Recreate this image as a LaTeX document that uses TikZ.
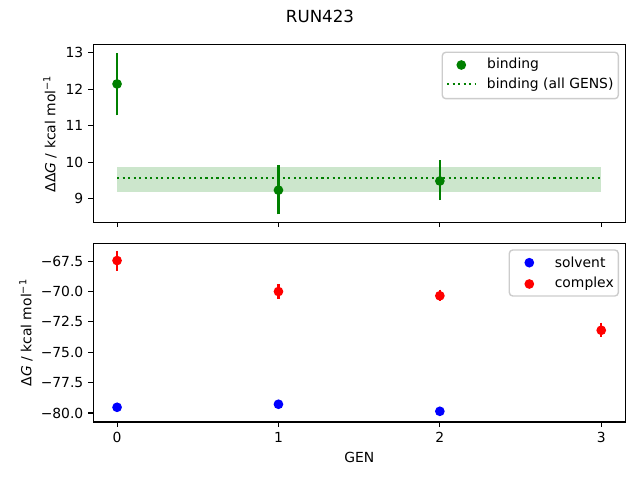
\documentclass[tikz,border=0pt]{standalone}
\usepackage{fontspec}
\setmainfont{DejaVu Sans}
\usetikzlibrary{positioning}
\definecolor{mplgreen}{HTML}{008000}
\definecolor{mplred}{HTML}{FF0000}
\definecolor{mplblue}{HTML}{0000FF}
\definecolor{framegray}{HTML}{CCCCCC}
\tikzset{
  axisbox/.style={line width=0.8bp},
  tickmark/.style={line width=0.8bp},
  errbar/.style={line width=1.5bp},
  dot/.style={circle, inner sep=0pt, minimum size=7bp},
  dotline/.style={mplgreen, line width=1.5bp, dash pattern=on 1.5bp off 2.475bp},
  ticklabel/.style={inner sep=0pt, font=\fontsize{10bp}{12bp}\selectfont},
  legtext/.style={inner sep=0pt, anchor=west, font=\fontsize{10bp}{12bp}\selectfont},
  legendframe/.style={draw=framegray, fill=white, fill opacity=0.8, rounded corners=2.5bp, line width=1bp},
}

\begin{document}
\begin{tikzpicture}[x=0.01in, y=0.01in]
\useasboundingbox (0,0) rectangle (640,480);

% top panel: binding free energy
\begin{scope}[shift={(1.17in,-0.485in)}, x=1.613in, y=0.366in]
\fill[mplgreen, opacity=0.2] (0,9.20) rectangle (3,9.88);
\draw[dotline] (0,9.56) -- (3,9.56);
\draw[errbar, mplgreen] (0,11.28) -- (0,12.98);
\draw[errbar, mplgreen] (1,8.58) -- (1,9.93);
\draw[errbar, mplgreen] (2,8.97) -- (2,10.07);
\node[dot, fill=mplgreen] (bind0) at (0,12.14) {};
\node[dot, fill=mplgreen] (bind1) at (1,9.24) {};
\node[dot, fill=mplgreen] (bind2) at (2,9.49) {};
\draw[axisbox] (-0.147,8.36) rectangle (3.152,13.21);
\foreach \v in {9,...,13} {
  \draw[tickmark] (-0.147,\v) -- ++(-3.5bp,0);
  \node[ticklabel, anchor=east] at ([xshift=-7bp]-0.147,\v) {\v};
}
\foreach \g in {0,...,3}
  \draw[tickmark] (\g,8.36) -- ++(0,-3.5bp);
\end{scope}

% bottom panel: solvent and complex legs
\begin{scope}[shift={(1.17in,10.3815in)}, x=1.613in, y=0.1214in]
\draw[errbar, mplred] (0,-66.65) -- (0,-68.27);
\draw[errbar, mplred] (1,-69.37) -- (1,-70.60);
\draw[errbar, mplred] (2,-69.85) -- (2,-70.80);
\draw[errbar, mplred] (3,-72.55) -- (3,-73.75);
\node[dot, fill=mplblue] (solv0) at (0,-79.53) {};
\node[dot, fill=mplblue] (solv1) at (1,-79.28) {};
\node[dot, fill=mplblue] (solv2) at (2,-79.86) {};
\node[dot, fill=mplred] (cplx0) at (0,-67.45) {};
\node[dot, fill=mplred] (cplx1) at (1,-70.00) {};
\node[dot, fill=mplred] (cplx2) at (2,-70.35) {};
\node[dot, fill=mplred] (cplx3) at (3,-73.19) {};
\draw[axisbox] (-0.147,-80.74) rectangle (3.152,-66.02);
\foreach \v/\t in {-80/−80.0, -77.5/−77.5, -75/−75.0, -72.5/−72.5, -70/−70.0, -67.5/−67.5} {
  \draw[tickmark] (-0.147,\v) -- ++(-3.5bp,0);
  \node[ticklabel, anchor=east] at ([xshift=-7bp]-0.147,\v) {\t};
}
\foreach \g in {0,...,3} {
  \draw[tickmark] (\g,-80.74) -- ++(0,-3.5bp);
  \node[ticklabel, anchor=north] at ([yshift=-7bp]\g,-80.74) {\g};
}
\end{scope}

% legends
\draw[legendframe] (442.3,381.3) rectangle (618.3,427.7);
\node[dot, fill=mplgreen] (legbind) at (461.3,415) {};
\node[legtext, right=0.205in of legbind] (legbindtext) {binding};
\coordinate (legall) at (447,395.7);
\draw[dotline] (legall) -- ++(28,0);
\node[legtext] (legalltext) at (486.7,395.7) {binding (all GENS)};

\draw[legendframe] (509.3,184) rectangle (618.3,230);
\node[dot, fill=mplblue] (legsolv) at (529.3,217.3) {};
\node[legtext, right=0.201in of legsolv] (legsolvtext) {solvent};
\node[dot, fill=mplred] (legcplx) at (529.3,196) {};
\node[legtext, right=0.201in of legcplx] (legcplxtext) {complex};

% titles and axis labels
\node[inner sep=0pt, anchor=north, font=\fontsize{12bp}{14bp}\selectfont] (title) at (320,470.4) {RUN423};
\node[ticklabel] (genlabel) at (359.4,23) {GEN};
\node[ticklabel, rotate=90] (toplabel) at (50,346.1) {ΔΔ\textit{G} / kcal mol\textsuperscript{−1}};
\node[ticklabel, rotate=90] (botlabel) at (26,147.3) {Δ\textit{G} / kcal mol\textsuperscript{−1}};
\end{tikzpicture}
\end{document}
